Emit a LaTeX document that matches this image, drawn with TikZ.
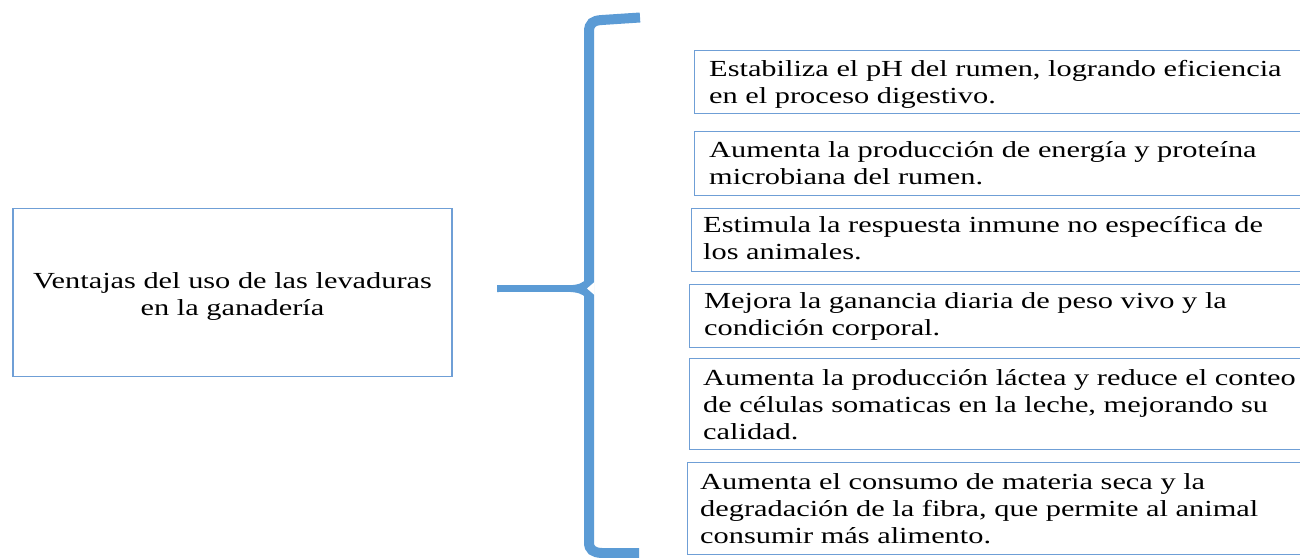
\documentclass[tikz,border=0pt]{standalone}
\usepackage{fontspec}
\setmainfont{Liberation Serif}[FakeStretch=1.32]
\definecolor{bracec}{HTML}{5B9BD5}
\definecolor{boxc}{HTML}{6F9FD6}
\tikzset{
  leftbox/.style={draw=boxc, line width=1.4pt, fill=white, inner sep=0pt},
  ltext/.style={align=center, inner sep=0pt, font=\fontsize{23}{27}\selectfont},
  rbox/.style={draw=boxc, line width=1.4pt, fill=white, inner sep=0pt, anchor=north west},
  rtext/.style={anchor=base west, align=left, inner sep=0pt, font=\fontsize{23}{27}\selectfont},
  bracel/.style={draw=bracec, line width=10pt, line cap=butt}
}
\begin{document}
\begin{tikzpicture}[x=1pt,y=-1pt]
\useasboundingbox (0,0) rectangle (1300,557);
\clip (0,0) rectangle (1300,557);
\fill[white] (0,0) rectangle (1300,557);
% left box
\node[leftbox, minimum width=439pt, minimum height=168pt] (L) at (232.5,292.5) {};
\node[ltext] (Lt) at (232.5,296) {Ventajas del uso de las levaduras\\en la ganadería};
% brace
\draw[bracel] (640,17.5) -- (602,20) .. controls (593,20.5) and (589,23) .. (589,32) -- (589,542)
  .. controls (589,550) and (593,552.5) .. (602,553) -- (639,553);
\fill[bracec] (497,285) -- (566,285.2) .. controls (578,285.5) and (583,283) .. (586,279)
  -- (586,298) .. controls (583,294) and (578,292) .. (566,291.8) -- (497,292) -- cycle;
\fill[white] (594.5,282) -- (587,288.5) -- (594.5,295) -- cycle;
% right boxes (text anchored at baseline of last line)
\node[rbox, minimum width=620pt, minimum height=63pt] (b1) at (694,50) {};
\node[rtext] (t1) at (709,103) {Estabiliza el pH del rumen, logrando eficiencia\\en el proceso digestivo.};
\node[rbox, minimum width=620pt, minimum height=64pt] (b2) at (694,131) {};
\node[rtext] (t2) at (709,184.5) {Aumenta la producción de energía y proteína\\microbiana del rumen.};
\node[rbox, minimum width=620pt, minimum height=63pt] (b3) at (691,208) {};
\node[rtext] (t3) at (703,259.5) {Estimula la respuesta inmune no específica de\\los animales.};
\node[rbox, minimum width=620pt, minimum height=63pt] (b4) at (689,284) {};
\node[rtext] (t4) at (704,335.5) {Mejora la ganancia diaria de peso vivo y la\\condición corporal.};
\node[rbox, minimum width=620pt, minimum height=91pt] (b5) at (689,358) {};
\node[rtext] (t5) at (703,439.5) {Aumenta la producción láctea y reduce el conteo\\de células somaticas en la leche, mejorando su\\calidad.};
\node[rbox, minimum width=620pt, minimum height=92pt] (b6) at (687,462) {};
\node[rtext] (t6) at (700,543) {Aumenta el consumo de materia seca y la\\degradación de la fibra, que permite al animal\\consumir más alimento.};
\end{tikzpicture}
\end{document}
